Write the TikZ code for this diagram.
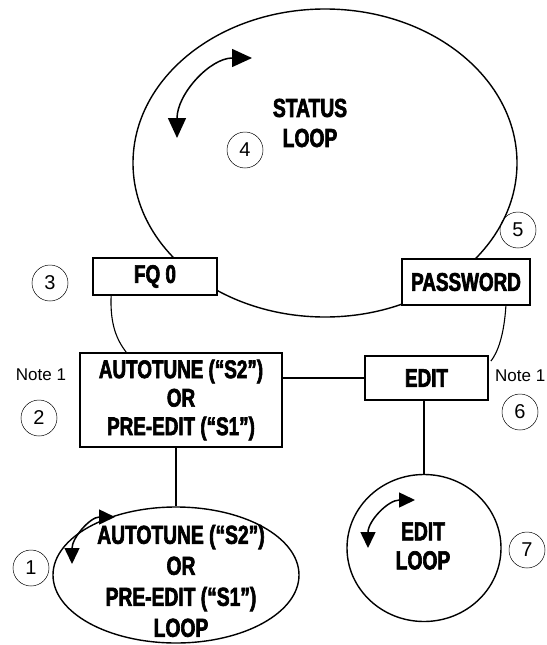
\documentclass[tikz,border=0pt]{standalone}
\usepackage{fontspec}
\setmainfont{Liberation Sans}
\newfontfamily\cond{Liberation Sans}[FakeStretch=0.74, FakeBold=2.4]
\usetikzlibrary{shapes.geometric,arrows.meta,calc}
\begin{document}
\begin{tikzpicture}[x=1pt,y=-1pt,
  box/.style={draw, line width=1.8pt, fill=white, inner sep=0pt,
    font=\cond\bfseries\fontsize{25.5}{28.5}\selectfont, align=center},
  loopshape/.style={draw, ellipse, line width=1.4pt, inner sep=0pt},
  wire/.style={line width=1.1pt},
  num/.style={circle, draw, line width=0.5pt, minimum size=36pt, inner sep=0pt,
    font=\fontsize{20}{20}\selectfont},
  note/.style={font=\fontsize{17}{17}\selectfont, inner sep=0pt},
  title/.style={font=\cond\bfseries\fontsize{26}{30}\selectfont, align=center, inner sep=0pt},
  spin/.style={line width=1.5pt,
    {Triangle[length=20pt,width=18pt]}-{Triangle[length=20pt,width=18pt]}},
  spinsmall/.style={line width=1.5pt,
    {Triangle[length=16pt,width=15pt]}-{Triangle[length=16pt,width=15pt]}},
]
\useasboundingbox (0,0) rectangle (546,645);

% status loop and the two boxes sitting on it
\node[loopshape, minimum width=384pt, minimum height=308pt] (status) at (325,163) {};
\node[box, minimum width=124pt, minimum height=37pt] (fq) at (155,276.5) {FQ 0};
\node[box, minimum width=128pt, minimum height=46pt] (pw) at (466,282) {PASSWORD};
\node[title] (statustxt) at (310,123) {STATUS\\LOOP};
\draw[spin] (177,138) .. controls (177,94) and (210,58) .. (252,58);

% middle row
\node[box, minimum width=202pt, minimum height=94pt] (auto) at (181,400)
  {AUTOTUNE (“S2”)\\OR\\PRE-EDIT (“S1”)};
\node[box, minimum width=123pt, minimum height=44pt] (edit) at (426.5,378) {EDIT};

% lower loops
\node[loopshape, minimum width=246pt, minimum height=136pt] (autoloop) at (176,575) {};
\node[title, font=\cond\bfseries\fontsize{26}{31}\selectfont] (autolooptxt) at (181,581)
  {AUTOTUNE (“S2”)\\OR\\PRE-EDIT (“S1”)\\LOOP};
\draw[spinsmall] (72,564) .. controls (72,538) and (90,517) .. (115,517);

\node[loopshape, minimum width=154pt, minimum height=147pt] (editloop) at (424,548) {};
\node[title, font=\cond\bfseries\fontsize{26}{29}\selectfont] (editlooptxt) at (423,546) {EDIT\\LOOP};
\draw[spinsmall] (368,548) .. controls (368,521) and (388,500) .. (415,500);

% connectors
\coordinate (fqout) at ($(fq.south west)+(19,0)$);
\coordinate (autoin) at ($(auto.north west)+(47,0)$);
\draw[wire] (fqout) .. controls (110,325) and (117,340) .. (autoin);
\coordinate (pwout) at ($(pw.south east)+(-25,0)$);
\coordinate (editin) at ($(edit.north east)+(2,6)$);
\draw[wire] (pwout) .. controls (504,335) and (498,352) .. (editin);
\draw[wire] (edit.west -| auto.east) -- (edit.west);
\draw[wire] (autoloop.north |- auto.south) -- (autoloop.north);
\draw[wire] (edit.south -| editloop.north) -- (editloop.north);

% notes and reference numbers
\node[note] (noteL) at (41,375) {Note 1};
\node[note, anchor=west] (noteR) at (495,376) {Note 1};
\node[num] (n1) at (31,568) {1};
\node[num] (n2) at (39,418) {2};
\node[num] (n3) at (50,283) {3};
\node[num] (n4) at (245,150) {4};
\node[num] (n5) at (518,230) {5};
\node[num] (n6) at (520,412) {6};
\node[num] (n7) at (527,550) {7};
\end{tikzpicture}
\end{document}
